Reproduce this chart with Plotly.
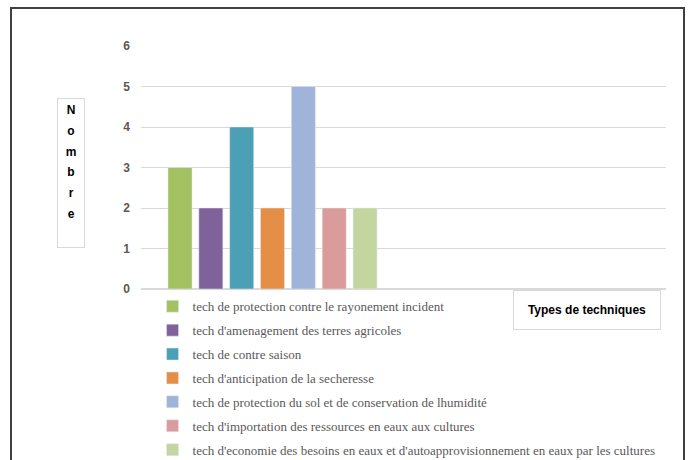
import plotly.graph_objects as go

techniques = [
    "tech de protection contre le rayonement incident",
    "tech d'amenagement des terres agricoles",
    "tech de contre saison",
    "tech d'anticipation de la secheresse",
    "tech de protection du sol et de conservation de lhumidité",
    "tech d'importation des ressources en eaux aux cultures",
    "tech d'economie des besoins en eaux et d'autoapprovisionnement en eaux par les cultures",
]
counts = [3, 2, 4, 2, 5, 2, 2]
colors = ["#A5C263", "#7F6299", "#4BA0B6", "#E58E48", "#A0B3D8", "#DA9B9B", "#C3D6A0"]
y_ticks = [0, 1, 2, 3, 4, 5, 6]

fig = go.Figure()
for i, (name, val, col) in enumerate(zip(techniques, counts, colors)):
    fig.add_trace(go.Bar(x=[i], y=[val], name=name, marker_color=col,
                         width=0.78, legendgroup=name))

fig.update_layout(
    width=689, height=460,
    margin=dict(l=141, r=23, t=46, b=171, autoexpand=False),
    paper_bgcolor="white", plot_bgcolor="white",
    showlegend=True,
    legend=dict(x=0.022, y=-0.0094, xanchor="left", yanchor="top",
                font=dict(family="Liberation Serif", size=13, color="#595959"),
                tracegroupgap=4, bgcolor="rgba(0,0,0,0)"),
    xaxis=dict(range=[-1.265, 15.76], showticklabels=False, showgrid=False,
               zeroline=False, showline=False),
    yaxis=dict(range=[0, 6], tickvals=y_ticks, showgrid=True, gridcolor="#D9D9D9",
               zeroline=True, zerolinecolor="#D9D9D9", showline=False,
               tickfont=dict(family="Liberation Sans", size=12, color="#595959",
                             weight="bold"),
               ticklabelstandoff=10),
    font=dict(family="Liberation Sans"),
)

letters = "Nombre"
fig.add_annotation(
    xref="paper", yref="paper", x=(70.5 - 141) / 525, y=(289 - 173) / 243,
    xanchor="center", yanchor="middle", valign="top",
    text="<br>".join(f"<span style='font-size:12px'><b>{c}</b></span>" for c in letters),
    showarrow=False, font=dict(family="Liberation Sans", size=16, color="black"),
    width=18, height=140, bordercolor="#D9D9D9", borderwidth=1, borderpad=4,
    bgcolor="white",
)
fig.add_annotation(
    xref="paper", yref="paper", x=(587 - 141) / 525, y=(289 - 310) / 243,
    xanchor="center", yanchor="middle",
    text="<b>Types de techniques</b>", showarrow=False,
    font=dict(family="Liberation Sans", size=12, color="black"),
    width=146, height=38, bordercolor="#D9D9D9", borderwidth=1, borderpad=0,
    bgcolor="white",
)
fig.add_shape(type="rect", xref="paper", yref="paper",
              x0=(11 - 141) / 525, x1=(684 - 141) / 525,
              y0=-0.9, y1=(289 - 8) / 243,
              line=dict(color="#404040", width=2), layer="above")

fig.write_html("out.html")
